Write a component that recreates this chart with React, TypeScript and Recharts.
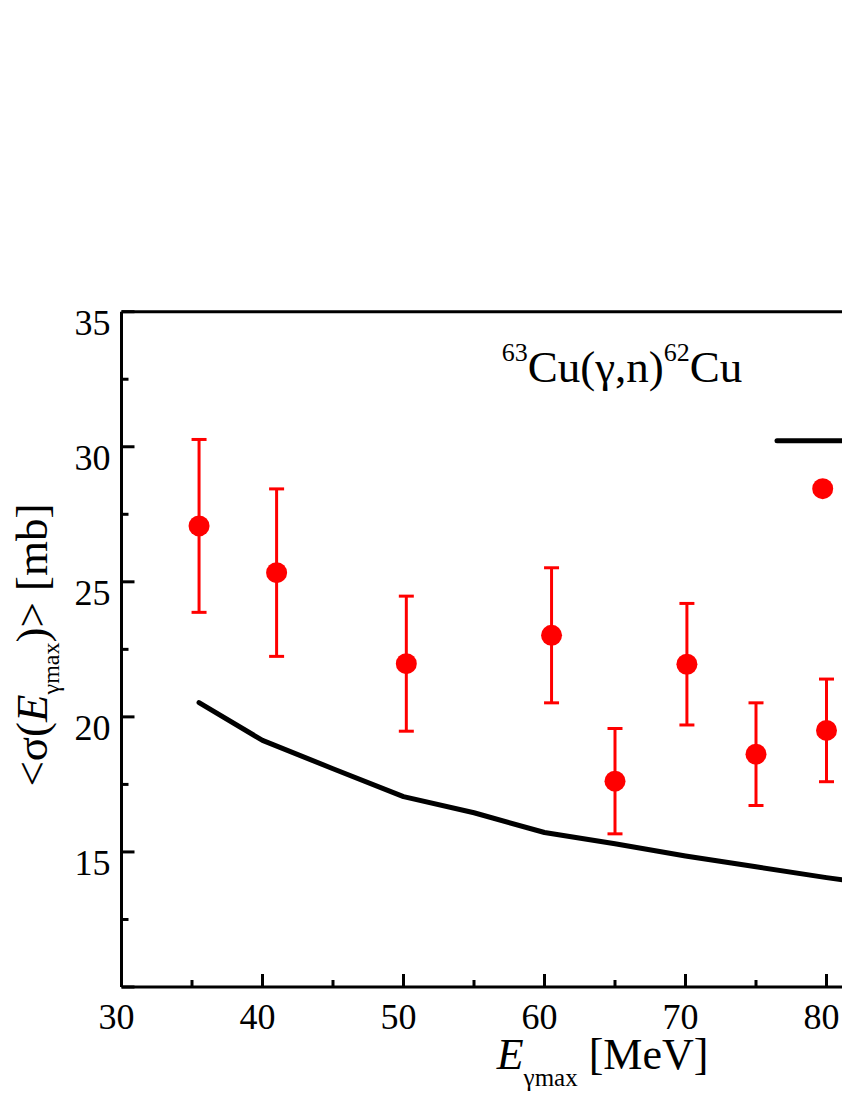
import { ComposedChart, Line, Scatter, ErrorBar, XAxis, YAxis, Legend } from "recharts"

const energies = [35.5, 41, 50.2, 60.5, 65, 70.1, 75, 80]
const sigmaExp = [27.07, 25.34, 21.97, 23.02, 17.62, 21.95, 18.62, 19.5]
const sigmaErr = [3.2, 3.1, 2.5, 2.5, 1.95, 2.25, 1.9, 1.9]

const theoryE = [35.5, 40, 45, 50, 55, 60, 65, 70, 75, 80, 85]
const theorySigma = [20.53, 19.13, 18.08, 17.05, 16.45, 15.72, 15.3, 14.85, 14.45, 14.05, 13.7]

const xTicks = [30, 35, 40, 45, 50, 55, 60, 65, 70, 75, 80, 85]
const yTicks = [10, 12.5, 15, 17.5, 20, 22.5, 25, 27.5, 30, 32.5, 35]

const FONT = "'Liberation Serif', 'Times New Roman', serif"
const RED = "#ff0000"

const expData = energies.map((x, i) => ({ x, y: sigmaExp[i], err: sigmaErr[i] }))
const theoryData = theoryE.map((x, i) => ({ x, y: theorySigma[i] }))

function BottomTick({ x, y, payload }: any) {
  const major = payload.value % 10 === 0
  return (
    <g>
      <line x1={x} x2={x} y1={y} y2={y - (major ? 13 : 7)} stroke="#000" strokeWidth={3} />
      {major && (
        <text x={x - 5} y={y + 42} textAnchor="middle" fontSize={36} fontFamily={FONT} fill="#000">
          {payload.value}
        </text>
      )}
    </g>
  )
}

function TopTick({ x, y, payload }: any) {
  const major = payload.value % 10 === 0
  return <line x1={x} x2={x} y1={y} y2={y + (major ? 13 : 7)} stroke="#000" strokeWidth={3} />
}

function LeftTick({ x, y, payload }: any) {
  const v = payload.value
  const major = v % 5 === 0
  return (
    <g>
      <line x1={x} x2={x + (major ? 13 : 7)} y1={y} y2={y} stroke="#000" strokeWidth={3} />
      {major && v !== 10 && (
        <text x={x - 11} y={y + 23} textAnchor="end" fontSize={36} fontFamily={FONT} fill="#000">
          {v}
        </text>
      )}
    </g>
  )
}

function Dot({ cx, cy }: any) {
  return <circle cx={cx} cy={cy} r={10.5} fill={RED} />
}

function LegendKey() {
  return (
    <svg width={120} height={80}>
      <line x1={3} x2={120} y1={7.7} y2={7.7} stroke="#000" strokeWidth={5} strokeLinecap="round" />
      <circle cx={48.7} cy={55.7} r={10.5} fill={RED} />
    </svg>
  )
}

export default function App() {
  return (
    <div style={{ width: 842, height: 1092, overflow: "hidden", position: "relative" }}>
      <ComposedChart
        width={1000}
        height={1092}
        margin={{ top: 273.7, right: 40.5, bottom: 83, left: 53.5 }}
      >
        <XAxis
          type="number"
          dataKey="x"
          domain={[30, 90]}
          ticks={xTicks}
          interval={0}
          height={30}
          tickSize={0}
          tickMargin={0}
          tickLine={false}
          axisLine={{ stroke: "#000", strokeWidth: 3 }}
          tick={BottomTick}
        />
        <XAxis
          xAxisId="top"
          orientation="top"
          type="number"
          domain={[30, 90]}
          ticks={xTicks}
          interval={0}
          height={30}
          tickSize={0}
          tickMargin={0}
          tickLine={false}
          axisLine={{ stroke: "#000", strokeWidth: 3 }}
          tick={TopTick}
        />
        <YAxis
          type="number"
          domain={[10, 35]}
          ticks={yTicks}
          interval={0}
          width={60}
          tickSize={0}
          tickMargin={0}
          tickLine={false}
          axisLine={{ stroke: "#000", strokeWidth: 3 }}
          tick={LeftTick}
        />
        <Line
          data={theoryData}
          dataKey="y"
          type="linear"
          stroke="#000"
          strokeWidth={5}
          strokeLinecap="round"
          strokeLinejoin="round"
          dot={false}
          activeDot={false}
          isAnimationActive={false}
        />
        <Scatter data={expData} dataKey="y" fill={RED} shape={Dot} isAnimationActive={false}>
          <ErrorBar dataKey="err" direction="y" width={7.5} strokeWidth={3} stroke={RED} />
        </Scatter>
        <Legend
          layout="horizontal"
          verticalAlign="middle"
          align="center"
          content={LegendKey}
          wrapperStyle={{ position: "absolute", left: 766, top: 425, width: 120, height: 80 }}
        />
        <text x={493.7} y={373.7} fontSize={45} fontFamily={FONT} fill="#000">
          <tspan fontSize={26} dy={-21}>63</tspan>
          <tspan dy={21}>Cu(γ,n)</tspan>
          <tspan fontSize={26} dy={-21}>62</tspan>
          <tspan dy={21}>Cu</tspan>
        </text>
        <text x={488.7} y={1061} fontSize={44} fontFamily={FONT} fill="#000">
          <tspan fontStyle="italic">E</tspan>
          <tspan fontSize={25} dy={17}>γmax</tspan>
          <tspan dy={-17}> [MeV]</tspan>
        </text>
        <text
          transform="translate(39, 637) rotate(-90)"
          textAnchor="middle"
          fontSize={45}
          fontFamily={FONT}
          fill="#000"
        >
          <tspan>&lt;σ(</tspan>
          <tspan fontStyle="italic">E</tspan>
          <tspan fontSize={24} dy={12}>γmax</tspan>
          <tspan dy={-12}>)&gt; [mb]</tspan>
        </text>
      </ComposedChart>
    </div>
  )
}
